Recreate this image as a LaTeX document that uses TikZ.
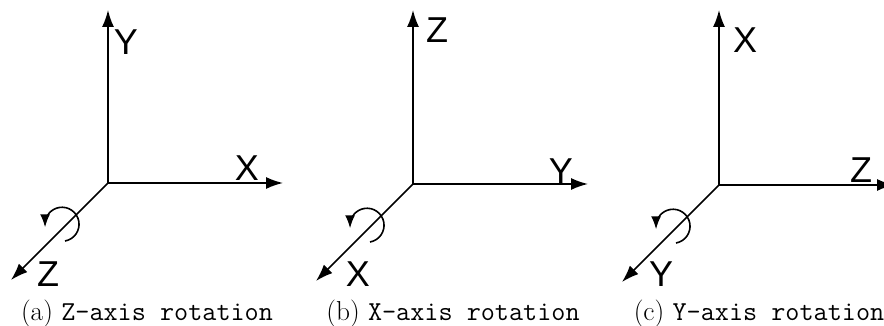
\documentclass[tikz,border=0pt]{standalone}
\usepackage{fontspec}
\newfontfamily\axisfont{Liberation Sans}
\usetikzlibrary{arrows.meta}
\tikzset{
	axis/.style={line width=1.6pt,-{Latex[length=17pt,width=12pt]}},
	turn/.style={line width=1.6pt,-{Latex[length=13pt,width=10pt]}},
	axislabel/.style={font=\fontsize{36}{36}\axisfont,inner sep=0pt},
	subcaption/.style={font=\fontsize{27.4}{30}\selectfont,inner sep=0pt,anchor=base}
}
\begin{document}
\begin{tikzpicture}[x=1pt,y=1pt]
	\useasboundingbox (0,0) rectangle (884,326);
	% one set of axes per rotation
	\foreach \n/\ox/\oy/\lup/\lside/\llow/\capx/\upx/\upy/\sidex/\sidey/\lowx in {a/108/143/Y/X/Z/147/126/284/247/158/48,b/413/142/Z/Y/X/453/437/296/561/155/358,c/719/141/X/Z/Y/759/745/286/861/156/661}{
		\coordinate (org\n) at (\ox,\oy);
		\coordinate (top\n) at (\ox,316);
		\coordinate (side\n) at (\ox+175,\oy);
		\coordinate (low\n) at (\ox-97,\oy-97);
		\coordinate (turnstart\n) at (\ox-43,\oy-58);
		\draw[axis] (org\n) -- (top\n);
		\draw[axis] (org\n) -- (side\n);
		\draw[axis] (org\n) -- (low\n);
		\draw[turn] (turnstart\n) arc (-80:180:17) -- ++(0,-3);
		\node[axislabel] (labup\n) at (\upx,\upy) {\lup};
		\node[axislabel] (labside\n) at (\sidex,\sidey) {\lside};
		\node[axislabel] (lablow\n) at (\lowx,52) {\llow};
		\node[subcaption] (cap\n) at (\capx,5) {(\n) \texttt{\llow-axis rotation}};
	}
\end{tikzpicture}
\end{document}
